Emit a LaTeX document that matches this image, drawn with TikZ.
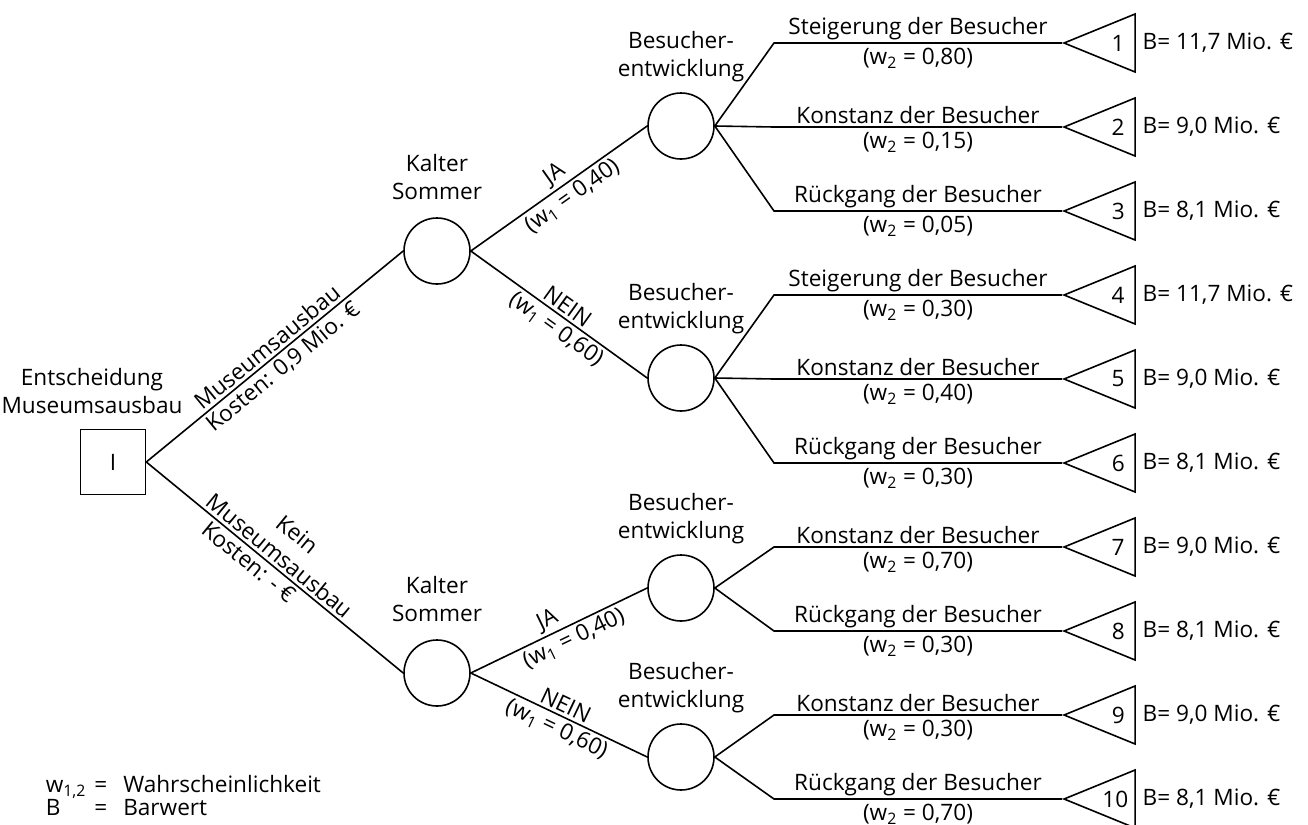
\documentclass[tikz,border=0pt]{standalone}
\usepackage{fontspec}
\setmainfont{Open Sans}
\usetikzlibrary{shapes.geometric, positioning}
\tikzset{
  decision/.style={rectangle, draw, minimum size=32.5pt, inner sep=0pt},
  chance/.style={circle, draw, minimum size=33pt, inner sep=0pt},
  leaf/.style={
    isosceles triangle, shape border rotate=180,
    isosceles triangle stretches, draw,
    minimum width=29pt, minimum height=35.5pt,
    inner sep=0pt, anchor=apex,
  },
  caption/.style={align=center, inner sep=1pt},
  edgetext/.style={sloped, align=center, inner sep=1.5pt},
  branch/.style={inner sep=1pt},
  value/.style={inner sep=0pt},
}

\begin{document}
\begin{tikzpicture}[x=0.5pt, y=-0.5pt, line width=0.8pt,
    font=\fontsize{11.3}{14}\selectfont]
  \useasboundingbox (0,0) rectangle (1308,825);

  % Entscheidungsknoten
  \node[decision] (dec) at (113,462) {I};
  \node[caption, above=6pt of dec, xshift=-10.5pt] (dectxt) {Entscheidung\\Museumsausbau};

  % Zufallsknoten kalter Sommer
  \node[chance] (ks1) at (437,251) {};
  \node[chance] (ks2) at (437,673) {};
  \node[caption, above=7.5pt of ks1] (ks1txt) {Kalter\\Sommer};
  \node[caption, above=7.5pt of ks2] (ks2txt) {Kalter\\Sommer};

  % Zufallsknoten Besucherentwicklung
  \foreach \n/\y in {1/126, 2/378, 3/588, 4/757} {
    \node[chance] (be\n) at (681,\y) {};
    \node[caption, above=3.5pt of be\n] (be\n txt) {Besucher-\\entwicklung};
  }

  % Kanten der Entscheidung
  \draw (dec.east) -- node[edgetext, above] {Museumsausbau}
                      node[edgetext, below] {Kosten: 0,9 Mio. €} (ks1.west);
  \draw (dec.east) -- node[edgetext, above, pos=0.49] {Kein\\Museumsausbau}
                      node[edgetext, below, pos=0.43] {Kosten: - €} (ks2.west);

  % Kanten kalter Sommer
  \foreach \a/\b/\ans/\w/\pa/\pb in {
    ks1/be1/JA/{0,40}/0.52/0.53, ks1/be2/NEIN/{0,60}/0.51/0.53,
    ks2/be3/JA/{0,40}/0.47/0.55, ks2/be4/NEIN/{0,60}/0.51/0.52}
    \draw (\a.east) -- node[edgetext, above, pos=\pa] {\ans}
                       node[edgetext, below, pos=\pb] {(w\textsubscript{1} = \w)} (\b.west);

  % Endknoten mit Barwert
  \coordinate (bend) at (774,0);
  \foreach \i/\src/\txt/\w/\val [evaluate=\i as \y using 43+84*(\i-1)] in {
    1/be1/Steigerung/{0,80}/{11,7}, 2/be1/Konstanz/{0,15}/{9,0},
    3/be1/Rückgang/{0,05}/{8,1},    4/be2/Steigerung/{0,30}/{11,7},
    5/be2/Konstanz/{0,40}/{9,0},    6/be2/Rückgang/{0,30}/{8,1},
    7/be3/Konstanz/{0,70}/{9,0},    8/be3/Rückgang/{0,30}/{8,1},
    9/be4/Konstanz/{0,30}/{9,0},    10/be4/Rückgang/{0,70}/{8,1}} {
    \node[leaf] (end\i) at (1062,\y) {\i};
    \node[value, right=3pt of end\i] (val\i) {B= \val\ Mio. €};
    \draw (\src.east) -- (bend |- end\i.apex)
      -- node[branch, above] {\txt\ der Besucher}
         node[branch, below, inner sep=2pt] {(w\textsubscript{2} = \w)} (end\i.apex);
  }

  % Legende
  \node[anchor=north west, inner sep=0pt] (legend) at (45,775)
    {\renewcommand\arraystretch{0.72}%
     \begin{tabular}{@{}l@{\hspace{4pt}}l@{\hspace{8pt}}l@{}}
       w\textsubscript{1,2} & = & Wahrscheinlichkeit\\
       B & = & Barwert
     \end{tabular}};
\end{tikzpicture}
\end{document}
